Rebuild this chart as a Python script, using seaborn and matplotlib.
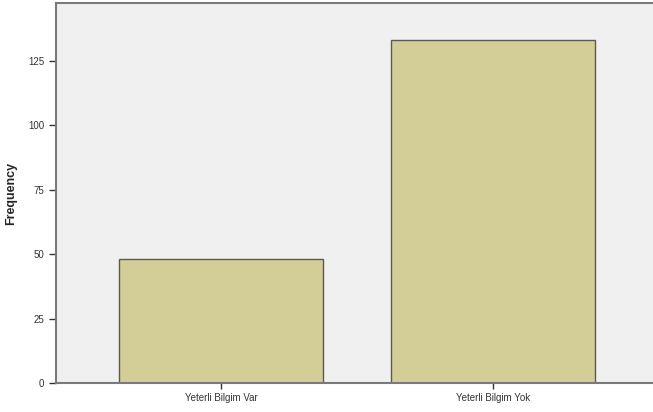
import matplotlib
matplotlib.use("Agg")
import matplotlib.pyplot as plt
import seaborn as sns
import pandas as pd

# Data
categories = ["Yeterli Bilgim Var", "Yeterli Bilgim Yok"]
frequencies = [48, 133]
y_ticks = [0, 25, 50, 75, 100, 125]

df = pd.DataFrame({"category": categories, "frequency": frequencies})

sns.set_style("white")
plt.rcParams["font.family"] = ["Liberation Sans", "DejaVu Sans"]

fig = plt.figure(figsize=(6.53, 4.12), dpi=100)
ax = fig.add_axes([0.0858, 0.0704, 0.914, 0.922])
ax.set_facecolor("#F0F0F0")

sns.barplot(data=df, x="category", y="frequency", ax=ax, width=0.75,
            color="#D3CE97", saturation=1, edgecolor="#5a5a50", linewidth=1.0)

ax.set_xlim(-0.607, 1.588)
ax.set_ylim(0, 147.5)
ax.set_yticks(y_ticks)
ax.set_xlabel("")
ax.set_ylabel("Frequency", fontsize=9, fontweight="bold", labelpad=8)
ax.tick_params(axis="both", labelsize=7, colors="#333333", length=5, width=1,
               direction="out", left=True, bottom=True)
ax.tick_params(axis="x", length=4)

for side in ["left", "top", "bottom"]:
    ax.spines[side].set_color("#7a7a7a")
    ax.spines[side].set_linewidth(1.5)
ax.spines["right"].set_visible(False)

fig.savefig("out.png", dpi=100)
